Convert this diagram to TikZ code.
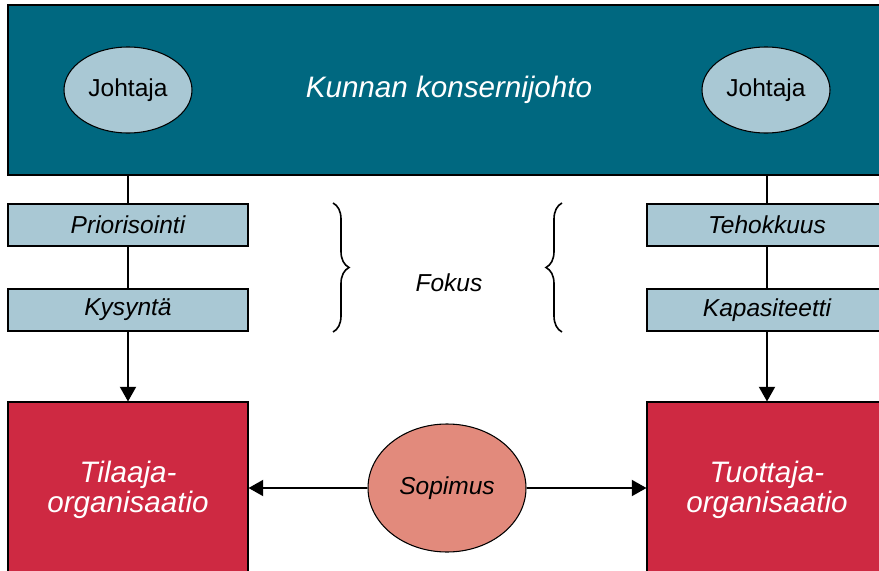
\documentclass[tikz,border=0pt]{standalone}
\usepackage{fontspec}
\setmainfont{Liberation Sans}
\usepackage{tikz}
\usetikzlibrary{shapes.geometric,arrows.meta,decorations.pathreplacing}
\definecolor{konserniteal}{RGB}{0,104,128}
\definecolor{fokusblue}{RGB}{169,200,212}
\definecolor{orgred}{RGB}{206,41,66}
\definecolor{sopimussalmon}{RGB}{226,138,124}

\begin{document}
\begin{tikzpicture}[x=0.75pt,y=-0.75pt,
  bigtext/.style={font=\fontsize{22.2}{22.5}\selectfont\itshape},
  smalltext/.style={font=\fontsize{18.4}{20}\selectfont},
  smallit/.style={font=\fontsize{18.4}{20}\selectfont\itshape},
  johtaja/.style={ellipse,draw,line width=0.8pt,fill=fokusblue,inner sep=0pt,
    minimum width=96pt,minimum height=64.5pt,smalltext},
  fokusbox/.style={rectangle,draw,line width=0.8pt,fill=fokusblue,inner sep=0pt,
    minimum width=180pt,minimum height=31.5pt,smallit},
  orgbox/.style={rectangle,draw,line width=0.8pt,fill=orgred,inner sep=0pt,
    minimum width=180pt,minimum height=132pt,bigtext,text=white,align=center},
  conn/.style={line width=1.5pt},
  arr/.style={conn,-{Triangle[length=11pt,width=12pt]}},
  brace/.style={decorate,decoration={brace,amplitude=12pt},line width=1.2pt}]
  \useasboundingbox (0,0) rectangle (879,571);
  \clip (0,0) rectangle (879,571);
  \node[rectangle,draw,line width=0.8pt,fill=konserniteal,inner sep=0pt,
    minimum width=684pt,minimum height=127.5pt] (konserni) at (464,90) {};
  \node[bigtext,text=white] (title) at (449,90) {Kunnan konsernijohto};
  \node[johtaja] (johtajaL) at (128,90) {Johtaja};
  \node[johtaja] (johtajaR) at (766,90) {Johtaja};

  \node[fokusbox] (prio) at (128,225) {Priorisointi};
  \node[fokusbox] (kysynta) at (128,310) {Kysyntä};
  \node[fokusbox] (tehokkuus) at (767,225) {Tehokkuus};
  \node[fokusbox] (kapasiteetti) at (767,310) {Kapasiteetti};

  \node[orgbox] (tilaaja) at (128,490) {Tilaaja-\\organisaatio};
  \node[orgbox] (tuottaja) at (767,490) {Tuottaja-\\organisaatio};
  \node[ellipse,draw,line width=0.8pt,fill=sopimussalmon,inner sep=0pt,
    minimum width=118.5pt,minimum height=96pt,smallit] (sopimus) at (447,488) {Sopimus};

  \node[smallit] (fokus) at (449,283) {Fokus};
  \coordinate (braceLtop) at (333,203);
  \coordinate (braceLbot) at (333,332);
  \coordinate (braceRtop) at (562,203);
  \coordinate (braceRbot) at (562,332);
  \draw[brace] (braceLtop) -- (braceLbot);
  \draw[brace] (braceRbot) -- (braceRtop);

  \draw[conn] (konserni.south -| prio.north) -- (prio);
  \draw[conn] (prio) -- (kysynta);
  \draw[arr] (kysynta) -- (tilaaja);
  \draw[conn] (konserni.south -| tehokkuus.north) -- (tehokkuus);
  \draw[conn] (tehokkuus) -- (kapasiteetti);
  \draw[arr] (kapasiteetti) -- (tuottaja);
  \draw[arr] (sopimus) -- (sopimus -| tilaaja.east);
  \draw[arr] (sopimus) -- (sopimus -| tuottaja.west);
\end{tikzpicture}
\end{document}
